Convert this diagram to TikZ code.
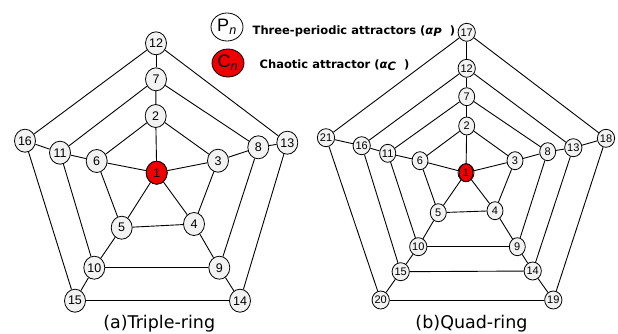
\documentclass[tikz,border=0pt]{standalone}
\usepackage{fontspec}
\setmainfont{Liberation Sans}
\newfontfamily\capfont{DejaVu Sans}
\usetikzlibrary{shapes.geometric}

\definecolor{nodegray}{RGB}{242,242,242}
\definecolor{chaosred}{RGB}{238,0,0}

\tikzset{
  vtx/.style={ellipse, draw, line width=0.8pt, fill=nodegray, inner sep=0pt},
  vtxa/.style={vtx, minimum width=21pt, minimum height=23pt, font=\fontsize{12.5}{12.5}\selectfont},
  vtxb/.style={vtx, minimum width=16pt, minimum height=18pt, font=\fontsize{11}{11}\selectfont},
  chaos/.style={fill=chaosred},
  edge/.style={line width=0.9pt},
  legc/.style={ellipse, draw, line width=0.8pt, inner sep=0pt, minimum width=32pt, minimum height=28pt,
    font=\fontsize{18}{18}\selectfont},
  legt/.style={anchor=base west, inner sep=0pt, font=\capfont\bfseries\fontsize{11.5}{12}\selectfont},
  caption/.style={anchor=base, inner sep=0pt, font=\capfont\fontsize{17.5}{18}\selectfont},
}

\begin{document}
\begin{tikzpicture}[x=1pt, y=-1pt]
\useasboundingbox (0,0) rectangle (618,333);

% (a) triple ring
\foreach \n/\x/\y in {1/156.7/172.7, 2/155.7/116, 3/218/160.7, 4/194/224, 5/121.7/227.7,
  6/96.7/161, 7/156/79.3, 8/258.3/147.3, 9/219.3/267.7, 10/94.3/267.7, 11/60/152.7,
  12/156/43.3, 13/287.3/142.7, 14/240/300.7, 15/75/300.7, 16/25/140.7}
  \node[vtxa] (a\n) at (\x,\y) {\n};
\node[vtxa, chaos] at (a1) {1};

% (b) quad ring
\foreach \n/\x/\y in {1/466/172.7, 2/466.7/126, 3/515/160.7, 4/495/210.7, 5/438.3/212.7,
  6/420/160.7, 7/466.7/96.7, 8/547.7/151.7, 9/517.3/246.7, 10/418.3/246.7, 11/387.7/153.3,
  12/466.7/68.3, 13/573.3/147.7, 14/532.7/271, 15/400.7/271.7, 16/361.7/145.7,
  17/466.7/32.3, 18/606/138.3, 19/553.3/300, 20/380.7/300, 21/326/137.7}
  \node[vtxb] (b\n) at (\x,\y) {\n};
\node[vtxb, chaos, minimum width=14pt] at (b1) {1};

% spokes from the centre
\foreach \k in {2,...,6} {
  \draw[edge] (a1) -- (a\k);
  \draw[edge] (b1) -- (b\k);
}
% radial links between rings
\foreach \k in {2,...,11} {
  \pgfmathtruncatemacro\m{\k+5}
  \draw[edge] (a\k) -- (a\m);
}
\foreach \k in {2,...,16} {
  \pgfmathtruncatemacro\m{\k+5}
  \draw[edge] (b\k) -- (b\m);
}
% pentagonal rings
\foreach \s in {2,7,12} {
  \foreach \i in {0,...,4} {
    \pgfmathtruncatemacro\k{\s+\i}
    \pgfmathtruncatemacro\j{\s+mod(\i+1,5)}
    \draw[edge] (a\k) -- (a\j);
  }
}
\foreach \s in {2,7,12,17} {
  \foreach \i in {0,...,4} {
    \pgfmathtruncatemacro\k{\s+\i}
    \pgfmathtruncatemacro\j{\s+mod(\i+1,5)}
    \draw[edge] (b\k) -- (b\j);
  }
}

% legend
\node[legc, fill=white] (lp) at (227,27) {P\textsubscript{\textit{n}}};
\node[legc, fill=chaosred] (lc) at (228,63) {C\textsubscript{\textit{n}}};
\node[legt] (lpt) at (252.5,34.3)
  {Three-periodic attractors (\textit{α}\raisebox{-2.5pt}{\textit{P}}\hspace{0.7em})};
\node[legt] (lct) at (259.5,68.3)
  {Chaotic attractor (\textit{α}\raisebox{-2.5pt}{\textit{C}}\hspace{0.7em})};

% captions
\node[caption] (capa) at (159.2,328.3) {(a)Triple-ring};
\node[caption] (capb) at (471.5,328.3) {(b)Quad-ring};
\end{tikzpicture}
\end{document}
